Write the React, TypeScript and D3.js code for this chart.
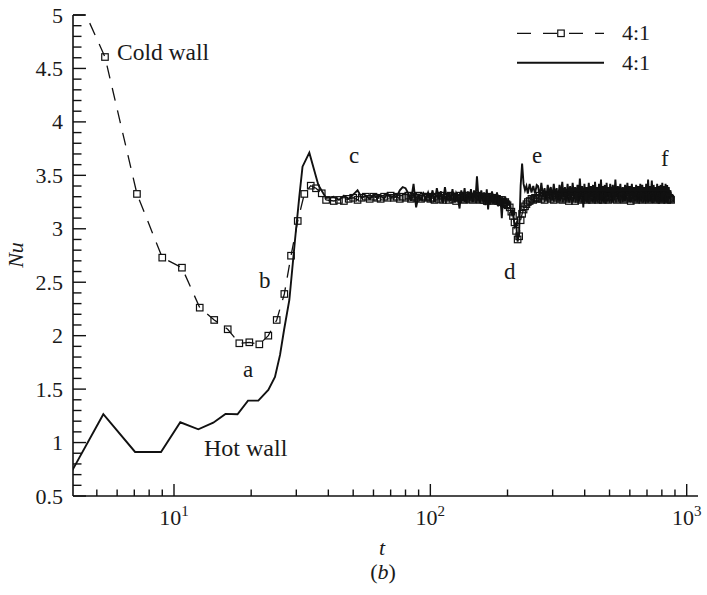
import React from 'react';
import * as d3 from 'd3';

// ---- data ----
// Cold wall (dashed, square markers): early transient
const coldEarlyT = [4.0, 4.54, 5.38, 7.17, 9.0, 10.74, 12.6, 14.35, 16.2, 17.98, 19.67, 21.52, 23.33, 25.16, 26.94, 28.61, 30.39, 32.24, 34.15, 35.8, 37.7, 39.2];
const coldEarlyV = [5.0, 5.0, 4.607, 3.326, 2.73, 2.636, 2.262, 2.147, 2.06, 1.929, 1.938, 1.919, 2.0, 2.147, 2.39, 2.748, 3.073, 3.326, 3.403, 3.379, 3.332, 3.27];

// Hot wall (solid): early transient
const hotEarlyT = [4.0, 5.3, 7.05, 8.9, 10.58, 12.44, 14.23, 15.88, 17.69, 19.44, 21.33, 23.33, 24.77, 25.92, 26.87, 28.18, 29.65, 30.82, 31.72, 33.72, 36.56, 39.17];
const hotEarlyV = [0.734, 1.265, 0.912, 0.912, 1.19, 1.124, 1.186, 1.268, 1.265, 1.392, 1.392, 1.492, 1.614, 1.82, 2.053, 2.334, 2.895, 3.3, 3.581, 3.712, 3.41, 3.288];

// Quasi-steady noisy regime (shared time samples)
const noiseT = [
  42, 44, 46, 48, 50, 52, 54, 56, 58, 60, 62, 64, 66, 68, 70, 72, 74, 76, 78, 80, 82, 84, 86, 88, 90, 92, 94, 96, 98, 100,
  102, 104, 106, 108, 110, 112, 114, 116, 118, 120, 122, 124, 126, 128, 130, 132, 134, 136, 138, 140,
  142, 144, 146, 148, 150, 152, 154, 156, 158, 160, 162, 164, 166, 168, 170, 172, 174, 176, 178, 180,
  182, 184, 186, 188, 190, 192, 194, 196, 198, 200,
  204, 207, 210, 213, 216, 219, 222, 225, 228, 231, 234, 237, 240, 244, 248, 252, 256, 260,
  263, 267, 271, 275, 279, 283, 287, 291, 295, 299, 303, 307, 311, 315, 319, 323, 327, 331, 335, 339,
  343, 347, 351, 355, 359, 363, 367, 371, 375, 379, 383, 387, 391, 395, 399, 403, 407, 411, 415, 419,
  423, 427, 431, 435, 439, 443, 447, 451, 455, 459, 463, 467, 471, 475, 479, 483, 487, 491, 495, 499, 503,
  509, 515, 521, 527, 533, 539, 545, 551, 557, 563, 569, 575, 581, 587, 593, 599, 605, 611, 617, 623,
  629, 635, 641, 647, 653, 659, 665, 671, 677, 683, 689, 695, 701, 707, 713, 719, 725, 731, 737, 743,
  749, 755, 761, 767, 773, 779, 785, 791, 797, 803, 809, 815, 821, 827, 833, 839, 845, 851, 857, 863, 869,
];
const coldNoiseV = [
  3.26, 3.27, 3.26, 3.28, 3.29, 3.27, 3.29, 3.30, 3.28, 3.30, 3.29, 3.28, 3.30, 3.29, 3.31, 3.29, 3.30, 3.28, 3.30, 3.29, 3.31, 3.28, 3.30, 3.29, 3.31, 3.28, 3.30, 3.29, 3.30, 3.28,
  3.29, 3.27, 3.30, 3.28, 3.31, 3.27, 3.29, 3.30, 3.27, 3.31, 3.28, 3.30, 3.26, 3.29, 3.31, 3.28, 3.30, 3.27, 3.29, 3.31,
  3.28, 3.30, 3.27, 3.29, 3.30, 3.28, 3.31, 3.27, 3.29, 3.30, 3.27, 3.29, 3.26, 3.28, 3.30, 3.27, 3.28, 3.26, 3.29, 3.27,
  3.28, 3.26, 3.27, 3.25, 3.27, 3.25, 3.24, 3.25, 3.23, 3.22,
  3.20, 3.16, 3.12, 3.06, 2.98, 2.90, 2.93, 3.08, 3.14, 3.18, 3.21, 3.23, 3.25, 3.26, 3.28, 3.27, 3.29, 3.28,
  3.29, 3.31, 3.28, 3.30, 3.27, 3.31, 3.29, 3.30, 3.28, 3.31, 3.27, 3.30, 3.29, 3.31, 3.28, 3.30, 3.27, 3.29, 3.31, 3.28,
  3.30, 3.26, 3.29, 3.31, 3.28, 3.30, 3.26, 3.29, 3.31, 3.28, 3.30, 3.27, 3.29, 3.31, 3.28, 3.30, 3.27, 3.31, 3.29, 3.28,
  3.30, 3.27, 3.31, 3.29, 3.30, 3.28, 3.31, 3.27, 3.29, 3.30, 3.28, 3.31, 3.27, 3.30, 3.29, 3.31, 3.28, 3.30, 3.27, 3.29, 3.30,
  3.30, 3.28, 3.31, 3.29, 3.27, 3.30, 3.28, 3.31, 3.29, 3.30, 3.27, 3.31, 3.28, 3.30, 3.29, 3.31, 3.26, 3.29, 3.30, 3.28,
  3.31, 3.27, 3.30, 3.29, 3.31, 3.28, 3.30, 3.27, 3.29, 3.31, 3.28, 3.30, 3.29, 3.31, 3.27, 3.30, 3.28, 3.31, 3.29, 3.30,
  3.28, 3.31, 3.27, 3.30, 3.29, 3.31, 3.28, 3.30, 3.27, 3.29, 3.31, 3.28, 3.30, 3.29, 3.31, 3.27, 3.30, 3.28, 3.29, 3.28, 3.27,
];
const hotNoiseV = [
  3.30, 3.27, 3.31, 3.28, 3.32, 3.36, 3.29, 3.31, 3.28, 3.32, 3.29, 3.31, 3.28, 3.33, 3.29, 3.31, 3.30, 3.36, 3.39, 3.38, 3.33, 3.26, 3.42, 3.20, 3.31, 3.27, 3.33, 3.28, 3.34, 3.27,
  3.36, 3.25, 3.38, 3.28, 3.35, 3.24, 3.39, 3.27, 3.34, 3.26, 3.37, 3.25, 3.33, 3.28, 3.19, 3.36, 3.26, 3.38, 3.24, 3.35,
  3.27, 3.37, 3.25, 3.36, 3.28, 3.49, 3.30, 3.24, 3.36, 3.27, 3.34, 3.22, 3.37, 3.18, 3.33, 3.26, 3.35, 3.24, 3.32, 3.27,
  3.34, 3.21, 3.31, 3.26, 3.10, 3.29, 3.23, 3.30, 3.21, 3.26,
  3.24, 3.14, 3.18, 3.02, 3.05, 2.88, 2.96, 3.40, 3.61, 3.42, 3.36, 3.40, 3.33, 3.42, 3.34, 3.40, 3.33, 3.41,
  3.40, 3.30, 3.43, 3.31, 3.38, 3.28, 3.41, 3.33, 3.39, 3.29, 3.42, 3.31, 3.38, 3.27, 3.41, 3.32, 3.44, 3.30, 3.39, 3.28,
  3.42, 3.31, 3.40, 3.29, 3.43, 3.32, 3.39, 3.30, 3.41, 3.28, 3.47, 3.31, 3.40, 3.20, 3.42, 3.30, 3.39, 3.31, 3.43, 3.29,
  3.40, 3.32, 3.41, 3.28, 3.44, 3.30, 3.39, 3.31, 3.42, 3.29, 3.46, 3.30, 3.40, 3.32, 3.41, 3.29, 3.43, 3.31, 3.39, 3.30, 3.42,
  3.31, 3.41, 3.29, 3.46, 3.30, 3.40, 3.32, 3.42, 3.29, 3.39, 3.31, 3.41, 3.28, 3.43, 3.30, 3.40, 3.32, 3.42, 3.30, 3.39,
  3.29, 3.41, 3.31, 3.40, 3.28, 3.42, 3.30, 3.41, 3.32, 3.39, 3.30, 3.42, 3.31, 3.46, 3.29, 3.40, 3.32, 3.45, 3.30, 3.41,
  3.31, 3.39, 3.29, 3.42, 3.30, 3.40, 3.32, 3.41, 3.29, 3.43, 3.31, 3.40, 3.30, 3.42, 3.29, 3.41, 3.31, 3.39, 3.30, 3.36, 3.33,
];

const yTickValues = [0.5, 1, 1.5, 2, 2.5, 3, 3.5, 4, 4.5, 5];
const xMajorTicks = [10, 100, 1000];
const xMajorExp = ['1', '2', '3'];
const legendLabels = ['4:1', '4:1'];

type P = [number, number];
const pairs = (ts: number[], vs: number[]): P[] =>
  ts.slice(0, Math.min(ts.length, vs.length)).map((t, i) => [t, vs[i]] as P);

const FONT = '"Liberation Serif", "Times New Roman", "DejaVu Serif", serif';

export default function App() {
  const W = 707, H = 595;
  const left = 73, right = 698, top = 15, bottom = 496;
  const x = d3.scaleLog().domain([10, 1000]).range([174, 686.7]);
  const y = d3.scaleLinear().domain([0.5, 5]).range([bottom, top]);

  const cold: P[] = [...pairs(coldEarlyT, coldEarlyV), ...pairs(noiseT, coldNoiseV)];
  const hot: P[] = [...pairs(hotEarlyT, hotEarlyV), ...pairs(noiseT, hotNoiseV)];
  const line = d3.line<P>().x((d) => x(d[0])).y((d) => y(d[1]));

  const xMinor: number[] = [];
  [1, 10, 100].forEach((k) => {
    for (let m = 2; m <= 9; m++) {
      const px = x(m * k);
      if (px > left + 1 && px < right) xMinor.push(m * k);
    }
  });
  const yMinor = d3.range(5, 51).map((i) => i / 10);

  const ms = 6.5;
  const tc = '#1a1a1a';

  return (
    <svg width={W} height={H} style={{ position: 'absolute', left: 0, top: 0, background: '#fff' }} fontFamily={FONT}>
      <defs>
        <clipPath id="plot">
          <rect x={left} y={top - 6} width={right - left} height={bottom - top + 6} />
        </clipPath>
      </defs>

      {/* data */}
      <g clipPath="url(#plot)">
        <path d={line(hot) || ''} fill="none" stroke="#111" strokeWidth={1.9} strokeLinejoin="miter" />
        <path d={line(cold) || ''} fill="none" stroke="#111" strokeWidth={1.3} strokeDasharray="13,10" />
        {cold.filter((d) => d[0] > 5).map((d, i) => (
          <rect key={i} x={x(d[0]) - ms / 2} y={y(d[1]) - ms / 2} width={ms} height={ms} fill="none" stroke="#111" strokeWidth={1.2} />
        ))}
      </g>

      {/* axes */}
      <line x1={left} y1={top} x2={left} y2={bottom} stroke="#111" strokeWidth={1.6} />
      <line x1={left} y1={bottom} x2={right} y2={bottom} stroke="#111" strokeWidth={1.6} />
      {yMinor.map((v) => {
        const major = Math.abs(v * 2 - Math.round(v * 2)) < 1e-6;
        return <line key={v} x1={left} x2={left + (major ? 13 : 8.5)} y1={y(v)} y2={y(v)} stroke="#111" strokeWidth={1.4} />;
      })}
      {yTickValues.map((v) => (
        <text key={v} x={63} y={y(v) + 7.5} textAnchor="end" fontSize={22} fill={tc}>{String(v)}</text>
      ))}
      {xMinor.map((t) => (
        <line key={t} x1={x(t)} x2={x(t)} y1={bottom} y2={bottom - 6.5} stroke="#111" strokeWidth={1.4} />
      ))}
      {xMajorTicks.map((t, i) => (
        <g key={t}>
          <line x1={x(t)} x2={x(t)} y1={bottom} y2={bottom - 12} stroke="#111" strokeWidth={1.4} />
          <text x={x(t)} y={525} textAnchor="middle" fontSize={22} fill={tc}>
            10<tspan dy={-9} fontSize={15}>{xMajorExp[i]}</tspan>
          </text>
        </g>
      ))}

      {/* axis titles */}
      <text x={382} y={555} textAnchor="middle" fontSize={22} fontStyle="italic" fill={tc}>t</text>
      <text x={383} y={579} textAnchor="middle" fontSize={22} fill={tc}>(<tspan fontStyle="italic">b</tspan>)</text>
      <text transform="translate(23,255) rotate(-90)" textAnchor="middle" fontSize={22} fontStyle="italic" fill={tc}>Nu</text>

      {/* annotations */}
      <text x={117} y={60} fontSize={23.5} fill={tc}>Cold wall</text>
      <text x={204} y={456} fontSize={24} fill={tc}>Hot wall</text>
      <text x={243} y={377} fontSize={23} fill={tc}>a</text>
      <text x={259} y={288} fontSize={23} fill={tc}>b</text>
      <text x={349} y={163} fontSize={23} fill={tc}>c</text>
      <text x={504} y={279} fontSize={23} fill={tc}>d</text>
      <text x={532} y={163} fontSize={23} fill={tc}>e</text>
      <text x={661} y={166} fontSize={23} fill={tc}>f</text>

      {/* legend */}
      <g>
        <line x1={517} x2={604} y1={33.3} y2={33.3} stroke="#111" strokeWidth={1.3} strokeDasharray="14,12" />
        <rect x={561 - ms / 2} y={33.3 - ms / 2} width={ms} height={ms} fill="#fff" stroke="#111" strokeWidth={1.2} />
        <text x={622} y={40} fontSize={22} fill={tc}>{legendLabels[0]}</text>
        <line x1={517} x2={604} y1={62.7} y2={62.7} stroke="#111" strokeWidth={1.9} />
        <text x={622} y={69.5} fontSize={22} fill={tc}>{legendLabels[1]}</text>
      </g>
    </svg>
  );
}
